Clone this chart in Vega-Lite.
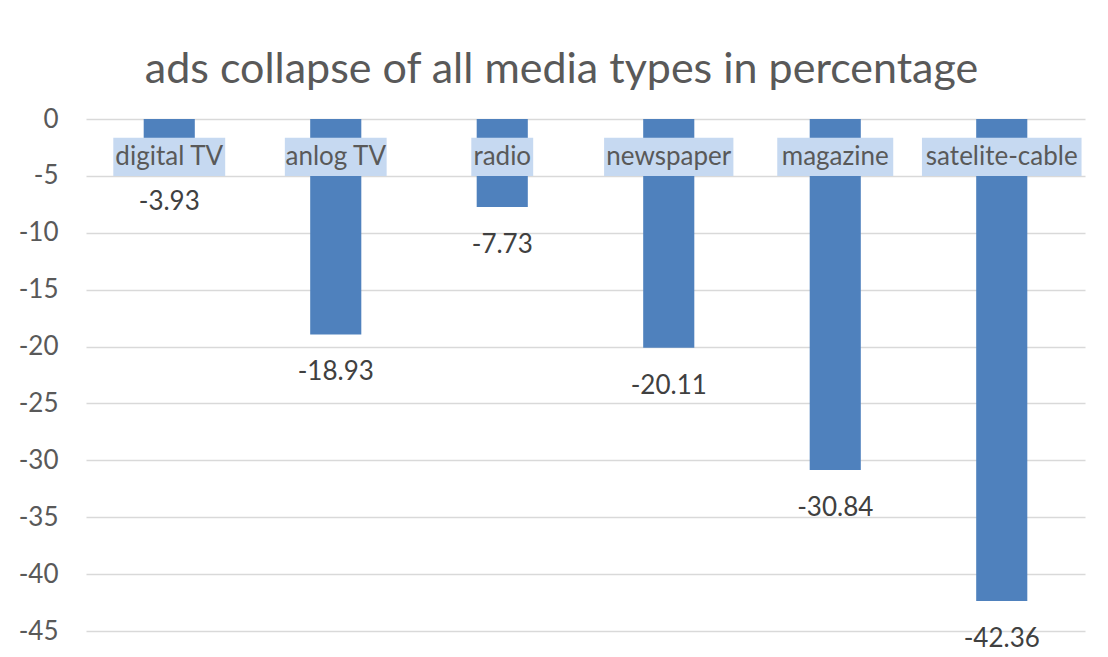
{
  "$schema": "https://vega.github.io/schema/vega-lite/v6.json",
  "autosize": {"type": "none"},
  "padding": {"left": 86, "top": 119, "right": 23, "bottom": 26},
  "width": 999,
  "height": 512,
  "background": "white",
  "title": {
    "text": "ads collapse of all media types in percentage",
    "font": "Lato",
    "fontSize": 43,
    "fontWeight": "normal",
    "color": "#595959",
    "anchor": "middle",
    "dx": -24,
    "offset": 14
  },
  "config": {
    "view": {"stroke": null},
    "font": "Lato"
  },
  "data": {
    "values": [
      {"media": "digital TV", "value": -3.93},
      {"media": "anlog TV", "value": -18.93},
      {"media": "radio", "value": -7.73},
      {"media": "newspaper", "value": -20.11},
      {"media": "magazine", "value": -30.84},
      {"media": "satelite-cable", "value": -42.36}
    ]
  },
  "encoding": {
    "x": {
      "field": "media",
      "type": "nominal",
      "sort": null,
      "scale": {"paddingInner": 0.693, "paddingOuter": 0.3465},
      "axis": null
    }
  },
  "layer": [
    {
      "mark": {"type": "bar", "color": "#4F81BD"},
      "encoding": {
        "y": {
          "field": "value",
          "type": "quantitative",
          "scale": {"domain": [-45, 0], "nice": false},
          "axis": {
            "title": null,
            "values": [0, -5, -10, -15, -20, -25, -30, -35, -40, -45],
            "labelExpr": "replace(datum.label, '−', '-')",
            "domain": false,
            "ticks": false,
            "grid": true,
            "gridColor": "#D9D9D9",
            "gridWidth": 1.5,
            "labelFont": "Lato",
            "labelFontSize": 26,
            "labelColor": "#595959",
            "labelPadding": 28
          }
        },
        "y2": {"datum": 0}
      }
    },
    {
      "transform": [
        {"calculate": "length(datum.media) * 13.3 - length(replace(datum.media, regexp('[^iltr -]', 'g'), '')) * 5.5 + length(replace(datum.media, regexp('[^mw]', 'g'), '')) * 8.7 + 6.4", "as": "boxw"}
      ],
      "mark": {"type": "bar", "color": "#C6D9F1"},
      "encoding": {
        "y": {"datum": -1.65},
        "y2": {"datum": -5},
        "size": {"field": "boxw", "type": "quantitative", "scale": null, "legend": null}
      }
    },
    {
      "mark": {"type": "text", "font": "Lato", "fontSize": 26, "color": "#595959", "baseline": "middle", "align": "center"},
      "encoding": {
        "y": {"datum": -3.35},
        "text": {"field": "media"}
      }
    },
    {
      "transform": [
        {"calculate": "replace(format(datum.value, '.2f'), '−', '-')", "as": "lbl"}
      ],
      "mark": {"type": "text", "font": "Lato", "fontSize": 26, "color": "#404040", "baseline": "middle", "align": "center", "dy": 38},
      "encoding": {
        "y": {"field": "value", "type": "quantitative"},
        "text": {"field": "lbl"}
      }
    }
  ]
}
